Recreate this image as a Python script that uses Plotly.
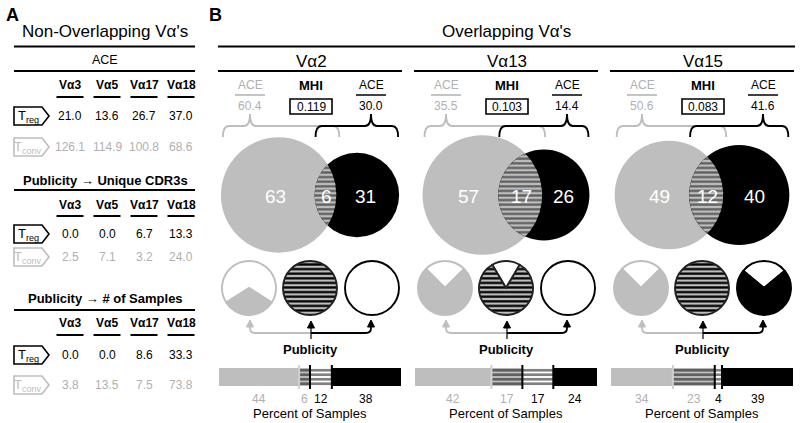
import math
import plotly.graph_objects as go

# ---------------- Panel A data ----------------
nonov_vas = ["Vα3", "Vα5", "Vα17", "Vα18"]
ace_treg = [21.0, 13.6, 26.7, 37.0]
ace_tconv = [126.1, 114.9, 100.8, 68.6]
uniq_treg = [0.0, 0.0, 6.7, 13.3]
uniq_tconv = [2.5, 7.1, 3.2, 24.0]
samp_treg = [0.0, 0.0, 8.6, 33.3]
samp_tconv = [3.8, 13.5, 7.5, 73.8]

# ---------------- Panel B data ----------------
ov_vas = ["Vα2", "Vα13", "Vα15"]
ace_tconv_ov = [60.4, 35.5, 50.6]
mhi = [0.119, 0.103, 0.083]
ace_treg_ov = [30.0, 14.4, 41.6]
venn_tconv_only = [63, 57, 49]
venn_shared = [6, 17, 12]
venn_treg_only = [31, 26, 40]
pub_frac_tconv = [0.32, 0.75, 0.75]
pub_frac_shared = [1.0, 0.83, 1.0]
pub_frac_treg = [0.0, 0.0, 0.72]
samples_tconv = [44, 42, 34]
samples_shared_tconv = [6, 17, 23]
samples_shared_treg = [12, 17, 4]
samples_treg = [38, 24, 39]

# ---------------- style ----------------
FONT = "Liberation Sans, Arial, sans-serif"
GREY = "#bebebe"
GREY_TXT = "#b0b0b0"
W, H = 800, 423
HATCH = dict(size=4.6, solidity=0.5)
BAR_HATCH = dict(size=4.5, solidity=0.6)

fig = go.Figure()
shapes, annots = [], []


def text(x, y, s, size=12, color="black", bold=False, xref="x", yref="y", xanchor="center"):
    if bold:
        s = f"<b>{s}</b>"
    annots.append(dict(x=x, y=y, xref=xref, yref=yref, text=s, showarrow=False,
                       font=dict(family=FONT, size=size, color=color),
                       xanchor=xanchor, yanchor="middle"))


def hline(x0, x1, y, color="black", width=2):
    shapes.append(dict(type="line", x0=x0, x1=x1, y0=y, y1=y, xref="x", yref="y",
                       line=dict(color=color, width=width)))


def path(p, color="black", width=1.5, fill=None, layer="above"):
    d = dict(type="path", path=p, xref="x", yref="y", layer=layer,
             line=dict(color=color, width=width))
    if fill:
        d["fillcolor"] = fill
    shapes.append(d)


# ================= Panel A =================
col_x = [70, 107, 144, 181]
text(4, 15, "A", size=18, bold=True, xanchor="left")
text(105, 31, "Non-Overlapping Vα's", size=17)
hline(14, 195, 46.5)

tables = [
    dict(title="ACE", bold=False, ty=60, ly=71, hy=85, uy=97, ry=(116, 147), vals=(ace_treg, ace_tconv)),
    dict(title="Publicity \u2192 Unique CDR3s", bold=True, ty=180, ly=190, hy=205, uy=216, ry=(234, 257),
         vals=(uniq_treg, uniq_tconv)),
    dict(title="Publicity \u2192 # of Samples", bold=True, ty=298, ly=310, hy=323, uy=335, ry=(355, 385),
         vals=(samp_treg, samp_tconv)),
]


def tag(y, label, color):
    path(f"M 14 {y-9} L 42 {y-9} L 49 {y} L 42 {y+9} L 14 {y+9} Z", color=color, width=1.6, fill="white")
    text(28, y, f"T<sub>{label}</sub>", size=13, color=color)


for t in tables:
    text(105, t["ty"], t["title"], size=13 if t["bold"] else 12.5, bold=t["bold"])
    hline(14, 195, t["ly"])
    for cx, name in zip(col_x, nonov_vas):
        text(cx, t["hy"], name, size=12, bold=True)
        hline(cx - 13.5, cx + 13.5, t["uy"], width=2)
    yt, yc = t["ry"]
    tag(yt, "reg", "black")
    tag(yc, "conv", GREY)
    for cx, v in zip(col_x, t["vals"][0]):
        text(cx, yt, f"{v:.1f}", size=12)
    for cx, v in zip(col_x, t["vals"][1]):
        text(cx, yc, f"{v:.1f}", size=12, color=GREY_TXT)

# ================= Panel B =================
text(207, 15, "B", size=18, bold=True, xanchor="left")
text(506, 31, "Overlapping Vα's", size=17)
hline(218, 795, 46.5)

G = [310, 506, 702]
K = 6.95            # px per sqrt(count) -> area proportional circles
VY = 195            # venn centre line
PY, PR = 288, 27    # small circle centre y and radius


def lens_area(r1, r2, d):
    if d >= r1 + r2:
        return 0.0
    if d <= abs(r1 - r2):
        return math.pi * min(r1, r2) ** 2
    a1 = r1 * r1 * math.acos((d * d + r1 * r1 - r2 * r2) / (2 * d * r1))
    a2 = r2 * r2 * math.acos((d * d + r2 * r2 - r1 * r1) / (2 * d * r2))
    a3 = 0.5 * math.sqrt((-d + r1 + r2) * (d + r1 - r2) * (d - r1 + r2) * (d + r1 + r2))
    return a1 + a2 - a3


def solve_d(r1, r2, target):
    lo, hi = abs(r1 - r2) + 1e-6, r1 + r2
    for _ in range(80):
        mid = (lo + hi) / 2
        if lens_area(r1, r2, mid) > target:
            lo = mid
        else:
            hi = mid
    return (lo + hi) / 2


def brace(x0, x1, xt, color):
    yt, yh, ye, rr = 114, 126, 137, 6
    p = (f"M {x0} {ye} Q {x0} {yh} {x0+rr} {yh} L {xt-rr} {yh} Q {xt} {yh} {xt} {yt} "
         f"Q {xt} {yh} {xt+rr} {yh} L {x1-rr} {yh} Q {x1} {yh} {x1} {ye}")
    path(p, color=color, width=1.9)


def arrowhead(x, ytip, color):
    path(f"M {x-3.5} {ytip+7} L {x} {ytip} L {x+3.5} {ytip+7} Z", color=color, width=1, fill=color)


layout_axes = {}
for i, g in enumerate(G):
    # header
    text(g + 1, 61, ov_vas[i], size=17)
    hline(g - 92, g + 92, 71)
    xl, xm, xr = g - 60, g + 1, g + 61
    text(xl, 85, "ACE", 12, GREY_TXT)
    hline(xl - 15, xl + 15, 95, GREY_TXT, 1.5)
    text(xl, 106, f"{ace_tconv_ov[i]:.1f}", 12, GREY_TXT)
    text(xm, 85, "MHI", 13, bold=True)
    shapes.append(dict(type="rect", x0=xm - 21, x1=xm + 21, y0=99, y1=114, xref="x", yref="y",
                       line=dict(color="black", width=1.6)))
    text(xm, 106.5, f"{mhi[i]:.3f}", 12)
    text(xr, 85, "ACE", 12)
    hline(xr - 15, xr + 15, 95, "black", 1.5)
    text(xr, 106, f"{ace_treg_ov[i]:.1f}", 12)

    # venn
    a, b, c = venn_tconv_only[i], venn_shared[i], venn_treg_only[i]
    r1 = K * math.sqrt(a + b)
    r2 = K * math.sqrt(b + c)
    d = solve_d(r1, r2, math.pi * K * K * b)
    total = r1 + d + r2
    c1 = g - total / 2 + r1
    c2 = c1 + d
    shapes.append(dict(type="circle", x0=c1 - r1, x1=c1 + r1, y0=VY - r1, y1=VY + r1, xref="x", yref="y",
                       fillcolor=GREY, line=dict(width=0), layer="below"))
    shapes.append(dict(type="circle", x0=c2 - r2, x1=c2 + r2, y0=VY - r2, y1=VY + r2, xref="x", yref="y",
                       fillcolor="black", line=dict(width=0), layer="below"))
    aa = (d * d + r1 * r1 - r2 * r2) / (2 * d)
    hh = math.sqrt(max(r1 * r1 - aa * aa, 0))
    t1 = math.atan2(hh, aa)
    t2 = math.atan2(hh, d - aa)
    n = 60
    lx, ly = [], []
    for k in range(n + 1):
        t = -t1 + 2 * t1 * k / n
        lx.append(c1 + r1 * math.cos(t)); ly.append(VY + r1 * math.sin(t))
    for k in range(n + 1):
        t = math.pi - t2 + 2 * t2 * k / n
        lx.append(c2 + r2 * math.cos(t)); ly.append(VY + r2 * math.sin(t))
    fig.add_trace(go.Scatter(x=lx, y=ly, mode="lines", fill="toself", line=dict(width=0, color=GREY),
                             fillcolor=GREY,
                             fillpattern=dict(shape="-", bgcolor=GREY, fgcolor="black", **HATCH),
                             hoverinfo="skip", showlegend=False, xaxis="x", yaxis="y"))
    lens_l, lens_r = c2 - r2, c1 + r1
    text((c1 - r1 + lens_l) / 2 + 8, VY + 1, str(a), 19, "white")
    text((lens_l + lens_r) / 2 + 1, VY + 1, str(b), 19, "white")
    text((lens_r + c2 + r2) / 2 - 2, VY + 1, str(c), 19, "white")

    # braces
    brace(c1 - r1 + 2, c1 + r1 + 3, xl, GREY)
    brace(c2 - r2 + 1, c2 + r2 - 1, xr, "black")

    # small publicity circles (pies)
    pies = [
        (xl - 1, pub_frac_tconv[i], GREY, None, GREY),
        (xm - 1, pub_frac_shared[i], GREY, "-", "#222222"),
        (xr + 1, pub_frac_treg[i], "black", None, "black"),
    ]
    for cx, f, col, pat, lc in pies:
        dom_x = [(cx - PR) / W, (cx + PR) / W]
        dom_y = [1 - (PY + PR) / H, 1 - (PY - PR) / H]
        vals, cols, shp, fgs, bgs = [], [], [], [], []
        if 1 - f > 0:
            vals.append(1 - f); cols.append("white"); shp.append(""); fgs.append("white"); bgs.append("white")
        if f > 0:
            vals.append(f); cols.append(col); shp.append(pat or ""); fgs.append("black"); bgs.append(col)
        marker = dict(colors=cols, line=dict(color=lc, width=1.9))
        if pat:
            marker["pattern"] = dict(shape=shp, fgcolor=fgs, bgcolor=bgs, **HATCH)
        fig.add_trace(go.Pie(values=vals, domain=dict(x=dom_x, y=dom_y), sort=False,
                             direction="clockwise", rotation=-(1 - f) * 180 if 0 < f < 1 else 0,
                             textinfo="none", hoverinfo="skip", showlegend=False, marker=marker))

    # arrows
    yl, ytop = 333, 320
    path(f"M {xm} {yl} L {xl+5} {yl} Q {xl} {yl} {xl} {yl-5} L {xl} {ytop+6}", color=GREY, width=1.8)
    arrowhead(xl, ytop, GREY)
    path(f"M {xm} {yl} L {xr-5} {yl} Q {xr} {yl} {xr} {yl-5} L {xr} {ytop+6}", color="black", width=1.8)
    arrowhead(xr, ytop, "black")
    path(f"M {xm} {yl+6} L {xm} {ytop+6}", color="black", width=1.2)
    arrowhead(xm, ytop + 1, "black")
    text(g, 349, "Publicity", 13, bold=True)
    text(g, 413, "Percent of Samples", 13)

    # stacked percentage bar on its own axis
    ax = i + 2
    xa, ya = f"x{ax}", f"y{ax}"
    layout_axes[f"xaxis{ax}"] = dict(domain=[(g - 91) / W, (g + 91) / W], range=[0, 100], visible=False,
                                     anchor=ya, fixedrange=True)
    layout_axes[f"yaxis{ax}"] = dict(domain=[1 - 386 / H, 1 - 368 / H], range=[-0.5, 0.5], visible=False,
                                     anchor=xa, fixedrange=True)
    segs = [
        (samples_tconv[i], GREY, None, GREY_TXT),
        (samples_shared_tconv[i], GREY, "-", GREY_TXT),
        (samples_shared_treg[i], "white", "-", "black"),
        (samples_treg[i], "black", None, "black"),
    ]
    cum = 0
    for val, col, pat, tcol in segs:
        mk = dict(color=col, line=dict(width=0))
        if pat:
            mk["pattern"] = dict(shape="-", fgcolor="black", bgcolor=col, **BAR_HATCH)
        fig.add_trace(go.Bar(x=[val], y=[0], base=[cum], orientation="h", width=1, marker=mk,
                             xaxis=xa, yaxis=ya, hoverinfo="skip", showlegend=False))
        annots.append(dict(x=cum + val / 2, y=399, xref=xa, yref="y", text=str(val), showarrow=False,
                           font=dict(family=FONT, size=12, color=tcol)))
        cum += val
    b1 = samples_tconv[i]
    b2 = b1 + samples_shared_tconv[i]
    b3 = b2 + samples_shared_treg[i]
    shapes.append(dict(type="line", x0=b1, x1=b1, y0=365, y1=389, xref=xa, yref="y",
                       line=dict(color="#d0d0d0", width=2)))
    for bx in (b2, b3):
        shapes.append(dict(type="line", x0=bx, x1=bx, y0=365, y1=389, xref=xa, yref="y",
                           line=dict(color="black", width=2)))

fig.update_layout(
    width=W, height=H, margin=dict(l=0, r=0, t=0, b=0),
    paper_bgcolor="white", plot_bgcolor="rgba(0,0,0,0)",
    xaxis=dict(range=[0, W], domain=[0, 1], visible=False, fixedrange=True),
    yaxis=dict(range=[H, 0], domain=[0, 1], visible=False, fixedrange=True),
    barmode="overlay", showlegend=False,
    shapes=shapes, annotations=annots,
    **layout_axes,
)
fig.write_html("out.html", config={"displayModeBar": False},
               post_script="document.body.style.margin='0';document.body.style.padding='0';")
